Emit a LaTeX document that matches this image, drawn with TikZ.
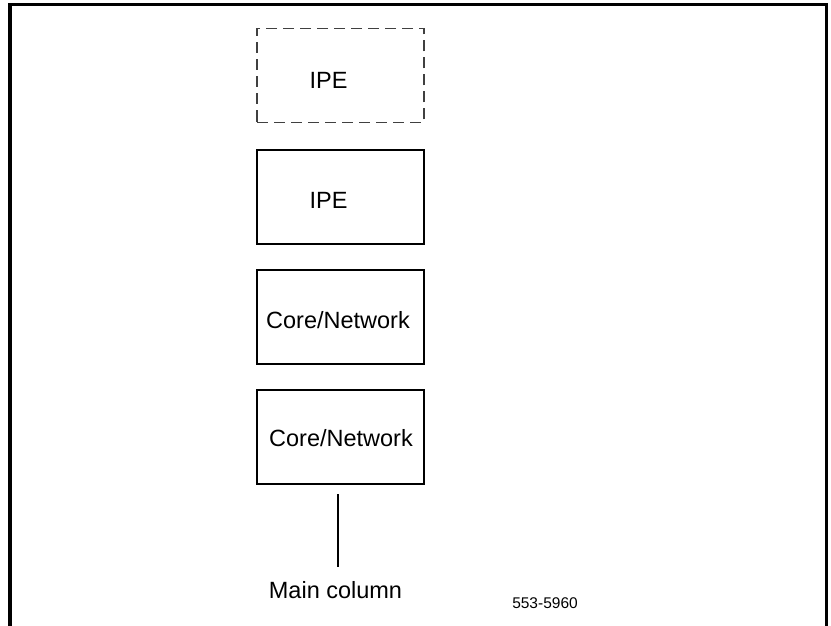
\documentclass[tikz,border=0pt]{standalone}
\usepackage{fontspec}
\setmainfont{Liberation Sans}
\usetikzlibrary{positioning}

\begin{document}
\begin{tikzpicture}[x=1pt, y=-1pt,
		unit/.style={draw, line width=2pt, minimum width=167pt, minimum height=94pt, inner sep=0pt},
		spare/.style={unit, draw=black!75, line width=1.5pt, dash pattern=on 11pt off 6pt},
		lbl/.style={font=\fontsize{23.5}{27}\selectfont, inner sep=0pt}]
		\useasboundingbox (0,0) rectangle (831,626);
		% outer frame, open at the bottom
		\draw[line width=3.5pt] (9.75,626) -- (9.75,4.5) -- (826.5,4.5) -- (826.5,626);
		% column of modules, top to bottom: name / look / centre
		\foreach \nm/\st/\yc in {ipeA/spare/75.5, ipeB/unit/197, netA/unit/317, netB/unit/437} {
			\node[\st] (\nm) at (340.5,\yc) {};
		}
		\node[lbl] at ([xshift=-12pt, yshift=-5pt]ipeA.center) {IPE};
		\node[lbl] at ([xshift=-12pt, yshift=-3pt]ipeB.center) {IPE};
		\node[lbl] at ([xshift=-2.5pt, yshift=-3pt]netA.center) {Core/Network};
		\node[lbl] at ([xshift=0.5pt, yshift=-1pt]netB.center) {Core/Network};
		% column label
		\node[lbl] (main) at (335.5,590) {Main column};
		\coordinate (stem) at ([xshift=-2.5pt, yshift=-9pt]netB.south);
		\draw[line width=2pt] (stem) -- ([yshift=14pt]stem |- main.north);
		\node[font=\fontsize{15.5}{18}\selectfont, inner sep=0pt] (fig) at (545,603) {553-5960};
	\end{tikzpicture}
\end{document}
